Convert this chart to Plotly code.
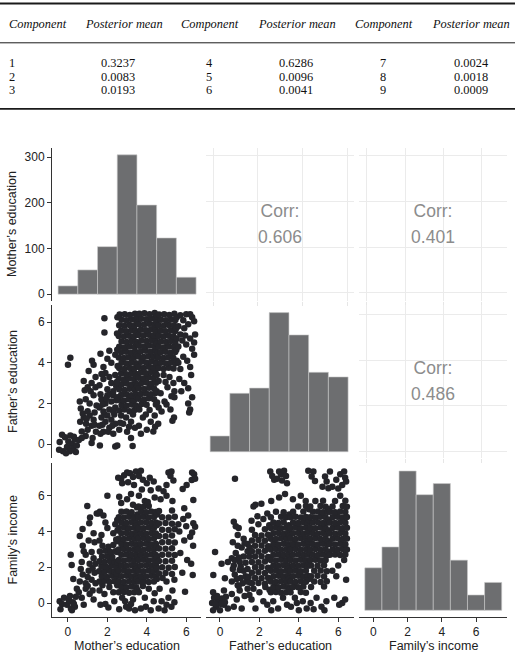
import plotly.graph_objects as go

W, H = 515, 652

# ---------------- table data ----------------
TABLE_HEADERS = ["Component", "Posterior mean", "Component", "Posterior mean", "Component", "Posterior mean"]
COMPONENTS = [1, 2, 3, 4, 5, 6, 7, 8, 9]
POSTERIOR_MEANS = ["0.3237", "0.0083", "0.0193", "0.6286", "0.0096", "0.0041", "0.0024", "0.0018", "0.0009"]

# ---------------- pairs-plot data ----------------
VAR_NAMES = ["Mother’s education", "Father’s education", "Family’s income"]
MOTHER_BINS = [0, 1, 2, 3, 4, 5, 6]
MOTHER_COUNTS = [18, 53, 104, 305, 195, 123, 37]
FATHER_BINS = [0, 1, 2, 3, 4, 5, 6]
FATHER_COUNTS = [24, 89, 97, 212, 178, 121, 114]
INCOME_BINS = [0, 1, 2, 3, 4, 5, 6, 7]
INCOME_COUNTS = [61, 91, 200, 166, 182, 72, 22, 40]
CORR_VALUES = ["0.606", "0.401", "0.486"]   # (mother,father), (mother,income), (father,income)
COUNT_TICKS = [0, 100, 200, 300]
VAR_TICKS = [0, 2, 4, 6]

# mother (x) vs father (y)
MF_PTS = [
 (-0.42,0.10),(-0.30,0.45),(-0.15,0.33),(-0.05,-0.15),(0.02,0.12),(0.12,0.42),(0.20,0.00),(0.26,-0.22),
 (0.35,0.22),(0.40,-0.40),(-0.25,-0.36),(-0.45,-0.28),(0.10,-0.36),(0.30,0.36),(0.45,-0.08),(-0.10,-0.45),
 (0.00,3.90),(0.12,4.25),
 (0.55,0.20),(0.70,0.62),(0.80,1.30),(0.92,1.00),(1.00,0.70),(1.10,1.40),(1.20,0.90),(1.30,1.20),
 (1.42,0.60),(0.62,1.10),(0.75,1.50),(1.00,1.62),(1.35,1.55),(0.90,0.40),(1.25,0.30),(1.10,2.00),
 (0.90,2.20),(1.30,2.40),(1.00,2.80),(1.20,3.00),(0.80,3.10),(1.40,3.30),(1.05,3.60),(1.30,3.90),
 (1.22,4.10),(0.60,2.10),(1.45,1.90),(1.15,2.60),(0.85,2.65),(1.40,2.80),(0.70,0.30),(1.20,0.05),
 (0.95,1.25),(1.35,0.95),(0.65,1.75),
 (1.62,-0.08),(2.40,-0.12),(1.60,0.90),(1.70,1.30),(1.80,0.60),(1.90,1.10),(2.00,1.40),(2.10,0.80),
 (2.20,1.20),(2.30,0.50),(2.40,1.00),(1.65,0.50),(1.85,1.45),(2.05,0.60),(2.35,1.45),(1.75,0.95),
 (2.25,0.90),(1.60,1.80),(1.70,2.20),(1.80,1.60),(1.90,2.00),(2.00,2.40),(2.10,1.70),(2.20,2.10),
 (2.30,2.40),(2.40,1.80),(1.65,2.45),(1.95,2.25),(2.15,2.45),(2.45,2.15),(1.75,1.95),(2.30,1.60),
 (1.60,2.90),(1.80,3.20),(2.00,2.70),(2.20,3.00),(2.40,3.40),(1.90,3.50),(2.30,2.60),(1.70,3.45),
 (2.10,3.30),(2.45,2.85),(1.80,3.80),(2.00,4.20),(2.20,4.00),(2.40,4.40),(1.65,4.45),(2.10,4.60),
 (1.85,5.50),(1.85,6.20),
 (2.50,-0.08),(3.28,-0.10),(3.20,0.30),(2.60,0.70),(2.80,1.00),(3.00,0.60),(3.20,1.10),(3.40,0.80),
 (2.70,1.40),(2.95,1.30),(3.30,1.45),(2.65,1.05),(3.10,0.85),
 (2.60,1.65),(2.86,1.70),(3.12,1.62),(3.38,1.68),
 (2.72,1.92),(2.98,1.88),(3.24,1.95),(3.45,1.90),
 (2.58,2.18),(2.84,2.14),(3.09,2.20),(3.35,2.15),
 (2.70,2.42),(2.96,2.45),(3.21,2.40),(3.44,2.46),
 (2.60,2.70),(2.86,2.66),(3.12,2.72),(3.37,2.68),
 (2.73,2.95),(2.98,2.98),(3.24,2.93),(3.46,2.97),
 (2.58,3.22),(2.84,3.18),(3.10,3.24),(3.35,3.20),
 (2.70,3.47),(2.96,3.44),(3.22,3.50),(3.44,3.46),
 (2.60,3.74),(2.85,3.70),(3.11,3.76),(3.36,3.72),
 (2.72,4.00),(2.97,3.97),(3.23,4.02),(3.45,3.98),
 (2.58,4.26),(2.84,4.24),(3.08,4.28),(3.34,4.25),
 (2.70,4.52),(2.95,4.55),(3.21,4.50),(3.44,4.53),
 (2.60,4.79),(2.86,4.76),(3.12,4.81),(3.36,4.78),
 (2.72,5.05),(2.98,5.03),(3.23,5.07),(3.45,5.04),
 (2.58,5.32),(2.84,5.30),(3.10,5.34),(3.35,5.31),
 (2.70,5.58),(2.96,5.56),(3.22,5.60),(3.44,5.57),
 (2.60,5.85),(2.86,5.83),(3.12,5.87),(3.38,5.84),
 (2.72,6.12),(2.97,6.10),(3.24,6.14),(3.45,6.11),
 (2.62,6.38),(2.88,6.40),(3.14,6.36),(3.40,6.42),
 (2.50,2.30),(2.48,3.05),(2.52,3.85),(2.50,4.65),(2.49,5.45),(2.51,6.25),
 (3.52,1.80),(3.50,2.30),(3.51,2.85),(3.49,3.35),(3.52,3.88),(3.50,4.40),(3.51,4.92),(3.49,5.45),
 (3.52,5.98),(3.50,6.30),
 (3.60,0.90),(3.80,1.30),(4.00,0.70),(4.20,1.10),(4.40,1.40),(3.70,0.50),(4.33,0.61),(3.95,1.45),(4.42,0.85),
 (3.62,1.70),(4.14,1.67),
 (3.74,1.97),(3.99,1.93),(4.46,1.95),
 (3.58,2.23),(3.86,2.19),(4.11,2.25),(4.37,2.20),
 (3.70,2.47),(3.96,2.50),(4.21,2.45),(4.44,2.51),
 (3.60,2.75),(3.86,2.71),(4.12,2.77),(4.37,2.73),
 (3.73,3.00),(3.98,3.03),(4.24,2.98),(4.46,3.02),
 (3.58,3.27),(3.84,3.23),(4.10,3.29),(4.35,3.25),
 (3.70,3.52),(3.96,3.49),(4.22,3.55),(4.44,3.51),
 (3.60,3.79),(3.85,3.75),(4.11,3.81),(4.36,3.77),
 (3.72,4.05),(3.97,4.02),(4.23,4.07),(4.45,4.03),
 (3.58,4.31),(3.84,4.29),(4.08,4.33),(4.34,4.30),
 (3.70,4.57),(3.95,4.60),(4.21,4.55),(4.44,4.58),
 (3.60,4.84),(3.86,4.81),(4.12,4.86),(4.36,4.83),
 (3.72,5.10),(3.98,5.08),(4.23,5.12),(4.45,5.09),
 (3.58,5.37),(3.84,5.35),(4.10,5.39),(4.35,5.36),
 (3.70,5.63),(3.96,5.61),(4.22,5.65),(4.44,5.62),
 (3.60,5.90),(3.86,5.88),(4.12,5.92),(4.38,5.89),
 (3.72,6.17),(3.97,6.15),(4.24,6.19),(4.45,6.16),
 (3.62,6.42),(3.88,6.44),(4.14,6.40),(4.40,6.45),
 (4.52,2.05),(4.50,2.60),(4.51,3.40),(4.49,3.95),(4.52,4.45),(4.50,4.95),(4.51,5.48),(4.49,6.00),
 (4.52,6.30),
 (4.58,1.00),(5.30,1.15),(5.38,1.30),(4.60,1.80),(4.90,2.10),(5.20,1.70),(5.40,2.30),(4.70,2.50),
 (5.05,2.80),(5.35,3.00),(4.60,3.10),(4.85,3.40),(5.15,3.30),(5.40,2.60),(4.75,1.60),(5.00,1.95),
 (5.25,2.35),(4.95,3.05),
 (4.60,3.74),(4.85,3.70),(5.11,3.76),(5.36,3.72),
 (4.72,4.00),(4.97,3.97),(5.23,4.02),(5.45,3.98),
 (4.58,4.26),(4.84,4.24),(5.08,4.28),(5.34,4.25),
 (4.70,4.52),(4.95,4.55),(5.21,4.50),(5.44,4.53),
 (4.60,4.79),(4.86,4.76),(5.12,4.81),(5.36,4.78),
 (4.72,5.05),(4.98,5.03),(5.23,5.07),(5.45,5.04),
 (4.58,5.32),(4.84,5.30),(5.10,5.34),(5.35,5.31),
 (4.70,5.58),(4.96,5.56),(5.22,5.60),(5.44,5.57),
 (4.60,5.85),(4.86,5.83),(5.12,5.87),(5.38,5.84),
 (4.72,6.12),(4.97,6.10),(5.24,6.14),(5.45,6.11),
 (4.62,6.38),(4.88,6.40),(5.14,6.36),(5.40,6.42),
 (5.52,4.10),(5.50,4.65),(5.51,5.20),(5.49,5.70),(5.52,6.25),
 (6.10,2.00),(6.20,1.70),(6.30,2.30),(6.15,1.55),(5.65,3.20),(5.90,3.00),(6.25,3.40),(5.75,2.60),
 (6.10,2.75),(5.60,4.00),(5.85,4.30),(6.20,3.80),(6.40,4.40),(5.70,3.70),(6.05,4.10),(5.60,4.80),
 (5.80,5.10),(6.00,4.90),(6.20,5.20),(6.40,5.00),(5.70,5.40),(6.30,4.70),(6.45,5.40),(5.95,5.35),
 (5.60,5.80),(5.85,6.10),(6.10,5.90),(6.30,6.25),(5.70,6.35),(6.00,6.40),(6.40,6.05),(5.90,5.70),
 (6.20,6.40),
]

# mother (x) vs income (y)
MI_PTS = [
 (-0.42,0.10),(-0.30,-0.05),(-0.20,0.30),(-0.05,-0.10),(0.05,0.15),(0.15,-0.30),(0.25,0.05),(0.35,-0.20),
 (0.40,0.35),(-0.38,-0.35),(0.10,0.40),(0.20,-0.40),(0.30,-0.05),(0.27,1.34),(0.19,2.13),(0.14,2.70),
 (0.55,0.60),(0.45,0.80),
 (0.70,0.30),(0.90,0.80),(1.10,0.50),(1.30,0.20),(0.80,-0.10),(0.60,1.20),(0.75,1.60),(0.90,1.10),
 (1.05,1.80),(1.20,1.30),(1.35,1.70),(0.65,1.90),(1.00,1.45),(1.25,1.95),(1.40,1.10),(0.70,2.30),
 (0.90,2.70),(1.10,2.20),(1.30,2.50),(0.80,2.90),(1.20,2.85),(1.40,2.20),(0.75,3.20),(1.05,3.50),
 (1.30,3.90),(0.74,4.14),(1.08,4.46),(1.12,4.78),(0.98,5.43),(1.46,5.00),(1.35,3.40),(0.60,3.75),
 (1.00,0.95),(1.25,0.70),
 (1.65,-0.10),(1.90,-0.05),(2.05,-0.25),(2.35,0.10),(1.60,0.70),(1.85,0.50),(2.10,0.90),(2.30,0.60),
 (1.75,1.00),
 (1.60,1.20),(1.85,1.25),(2.10,1.18),(2.35,1.22),
 (1.72,1.50),(1.98,1.46),(2.24,1.52),(2.45,1.48),
 (1.58,1.78),(1.84,1.75),(2.10,1.80),(2.36,1.76),
 (1.70,2.05),(1.96,2.02),(2.22,2.08),(2.44,2.04),
 (1.60,2.33),(1.86,2.30),(2.12,2.35),(2.37,2.31),
 (1.73,2.60),(1.99,2.62),(2.25,2.58),
 (1.62,2.88),(1.90,2.92),(2.15,2.86),(2.40,2.90),
 (1.75,3.20),(2.05,3.15),(2.30,3.25),
 (1.70,3.80),(2.00,4.20),(2.30,3.90),(1.90,4.50),(2.40,4.40),(1.55,5.00),(1.62,5.10),(1.80,4.90),
 (2.00,6.00),(2.45,3.55),(1.60,3.50),
 (2.50,1.00),(2.49,1.65),(2.51,2.25),(2.50,2.85),(2.48,3.45),(2.51,4.05),(2.50,4.65),
 (2.60,-0.35),(2.90,0.10),(3.10,-0.30),(3.30,0.20),(2.75,0.30),(3.40,-0.40),(2.95,-0.20),(3.20,-0.05),
 (2.58,0.60),(2.84,0.62),(3.10,0.58),(3.36,0.61),
 (2.71,0.90),(2.97,0.88),(3.23,0.92),(3.46,0.89),
 (2.58,1.20),(2.84,1.18),(3.10,1.22),(3.36,1.19),
 (2.71,1.50),(2.97,1.52),(3.23,1.48),(3.46,1.51),
 (2.58,1.80),(2.84,1.82),(3.10,1.78),(3.36,1.81),
 (2.71,2.10),(2.97,2.08),(3.23,2.12),(3.46,2.09),
 (2.58,2.40),(2.84,2.38),(3.10,2.42),(3.36,2.39),
 (2.71,2.70),(2.97,2.72),(3.23,2.68),(3.46,2.71),
 (2.58,3.00),(2.84,3.02),(3.10,2.98),(3.36,3.01),
 (2.71,3.30),(2.97,3.28),(3.23,3.32),(3.46,3.29),
 (2.58,3.60),(2.84,3.58),(3.10,3.62),(3.36,3.59),
 (2.71,3.90),(2.97,3.92),(3.23,3.88),(3.46,3.91),
 (2.58,4.20),(2.84,4.22),(3.10,4.18),(3.36,4.21),
 (2.71,4.50),(2.97,4.48),(3.23,4.52),(3.46,4.49),
 (2.58,4.80),(2.84,4.78),(3.10,4.82),(3.36,4.79),
 (2.71,5.10),(2.97,5.12),(3.23,5.08),
 (2.70,5.60),(3.00,5.80),(3.30,5.50),(3.20,6.10),(2.60,5.95),
 (2.55,7.00),(2.70,6.95),(2.85,7.15),(3.00,7.30),(3.15,7.25),(3.30,7.05),(3.45,7.35),(2.75,6.70),
 (3.05,6.75),(3.35,6.60),
 (3.51,0.75),(3.50,1.35),(3.49,1.95),(3.52,2.55),(3.50,3.15),(3.51,3.75),(3.49,4.35),(3.52,4.95),
 (3.50,5.35),
 (3.60,0.60),(3.90,0.30),(4.10,0.80),(4.35,0.10),(3.70,-0.30),(4.20,-0.40),(3.95,-0.20),(4.40,0.55),
 (3.80,0.95),
 (3.58,1.20),(3.84,1.22),(4.10,1.18),(4.36,1.21),
 (3.71,1.50),(3.97,1.48),(4.23,1.52),(4.46,1.49),
 (3.58,1.80),(3.84,1.78),(4.10,1.82),(4.36,1.79),
 (3.71,2.10),(3.97,2.12),(4.23,2.08),(4.46,2.11),
 (3.58,2.40),(3.84,2.42),(4.10,2.38),(4.36,2.41),
 (3.71,2.70),(3.97,2.68),(4.23,2.72),(4.46,2.69),
 (3.58,3.00),(3.84,2.98),(4.10,3.02),(4.36,2.99),
 (3.71,3.30),(3.97,3.32),(4.23,3.28),(4.46,3.31),
 (3.58,3.60),(3.84,3.62),(4.10,3.58),(4.36,3.61),
 (3.71,3.90),(3.97,3.88),(4.23,3.92),(4.46,3.89),
 (3.58,4.20),(3.84,4.18),(4.10,4.22),(4.36,4.19),
 (3.71,4.50),(3.97,4.52),(4.23,4.48),(4.46,4.51),
 (3.58,4.80),(3.84,4.82),(4.10,4.78),(4.36,4.81),
 (3.71,5.10),(3.97,5.08),(4.23,5.12),(4.46,5.09),
 (3.58,5.40),(3.84,5.38),(4.10,5.42),
 (3.60,6.00),(3.90,5.70),(4.20,6.30),(4.40,5.90),(3.75,6.35),(3.60,7.10),(3.80,6.90),(4.00,6.70),
 (3.70,7.40),(4.15,7.00),(4.35,6.80),(4.05,5.65),
 (4.51,1.35),(4.50,1.95),(4.52,2.55),(4.49,3.15),(4.51,3.75),(4.50,4.35),(4.52,4.95),
 (4.60,-0.30),(4.75,0.10),(4.90,-0.40),(5.10,0.30),(5.25,-0.20),(5.40,0.05),(5.00,-0.10),(4.65,0.80),
 (5.00,1.20),(5.30,0.70),(4.80,1.40),(5.40,1.30),
 (4.62,1.65),(4.95,1.68),(5.28,1.62),
 (4.78,2.00),(5.11,1.98),(5.42,2.02),
 (4.62,2.35),(4.95,2.33),(5.28,2.37),
 (4.78,2.70),(5.11,2.72),(5.42,2.68),
 (4.62,3.05),(4.95,3.03),(5.28,3.07),
 (4.78,3.40),(5.11,3.42),(5.42,3.38),
 (4.62,3.75),(4.95,3.73),(5.28,3.77),
 (4.78,4.10),(5.11,4.08),(5.42,4.12),
 (4.62,4.45),(4.95,4.47),(5.28,4.43),
 (4.78,4.80),(5.11,4.78),(5.42,4.82),
 (4.62,5.15),(5.28,5.17),
 (4.70,5.80),(5.00,6.00),(5.30,5.70),(5.10,7.30),(5.20,7.10),(5.35,6.85),(5.00,6.60),(5.25,7.35),
 (4.60,6.40),(4.85,6.25),
 (5.94,0.63),(6.33,1.57),(5.80,1.70),(6.05,2.40),(6.25,2.20),(5.70,2.80),(6.35,3.20),(5.90,3.50),
 (6.20,3.70),(6.45,4.27),(6.36,4.46),(6.00,4.30),(5.65,4.00),(6.30,3.95),(5.85,4.70),(6.10,4.90),
 (5.60,4.40),(6.36,5.76),(6.02,6.60),(6.28,6.88),(6.40,7.20),(6.30,7.30),(5.82,6.38),(5.90,5.30),
 (6.45,6.95),
]

# father (x) vs income (y)
FI_PTS = [
 (-0.40,0.00),(-0.30,0.30),(-0.20,-0.20),(-0.10,0.10),(0.00,-0.40),(0.10,0.25),(0.20,-0.10),(0.30,0.35),
 (0.40,-0.30),(-0.35,-0.40),(0.05,-0.05),(-0.15,0.40),(0.25,0.05),(-0.25,-0.05),(-0.35,0.60),(0.20,0.70),
 (-0.34,1.57),(0.25,1.38),(0.08,2.20),(-0.25,2.85),(0.40,2.30),
 (0.76,6.95),(0.70,4.55),(0.80,4.30),(0.95,4.20),(0.65,3.40),(0.90,3.80),(1.20,3.60),(1.40,3.30),
 (1.10,3.10),(0.60,2.50),(0.80,2.80),(1.00,2.30),(1.20,2.60),(1.40,2.90),(0.70,2.10),(0.60,1.20),
 (0.75,1.60),(0.90,1.00),(1.05,1.40),(1.20,1.80),(1.35,1.20),(0.65,1.90),(1.00,1.85),(1.30,1.50),
 (0.85,1.35),(1.15,1.10),(1.40,1.90),(0.60,0.50),(0.85,0.20),(1.00,0.70),(1.25,0.40),(1.40,0.80),
 (0.70,-0.20),(1.10,-0.30),(0.95,0.95),(1.30,2.25),(0.90,3.20),
 (0.75,2.40),(1.05,2.05),(1.25,3.35),(0.95,2.55),(1.45,1.45),(1.48,2.60),(1.50,3.10),(1.52,1.15),
 (1.49,0.45),
 (1.70,5.40),(1.80,5.50),(2.10,5.55),(1.60,0.20),(1.80,-0.30),(2.00,0.60),(2.20,0.10),(2.40,-0.10),
 (1.70,0.80),(2.30,0.90),
 (1.62,1.10),(1.95,1.12),(2.28,1.08),
 (1.78,1.40),(2.11,1.38),(2.44,1.42),
 (1.62,1.70),(1.95,1.72),(2.28,1.68),
 (1.78,2.00),(2.11,2.02),(2.44,1.98),
 (1.62,2.30),(1.95,2.28),(2.28,2.32),
 (1.78,2.60),(2.11,2.62),(2.44,2.58),
 (1.62,2.90),(1.95,2.88),(2.28,2.92),
 (1.78,3.20),(2.11,3.22),(2.44,3.18),
 (1.62,3.50),(1.95,3.52),(2.28,3.48),
 (1.78,3.80),(2.11,3.78),(2.44,3.82),
 (1.62,4.10),(2.28,4.12),(1.95,4.40),
 (1.60,4.60),(2.20,4.70),(2.40,5.00),(1.90,4.85),
 (2.51,0.75),(2.50,1.35),(2.49,1.95),(2.52,2.55),(2.50,3.15),(2.51,3.75),(2.50,4.35),
 (2.55,7.35),(2.65,7.10),(2.75,6.90),(3.00,7.35),(3.10,7.20),(3.25,7.40),(3.35,7.10),(3.15,6.85),
 (2.90,6.95),(3.40,6.70),(2.60,5.70),(3.00,5.90),(3.30,6.10),
 (2.70,0.10),(2.95,-0.30),(3.20,0.30),(3.40,-0.10),(2.60,-0.40),
 (2.58,0.60),(2.84,0.62),(3.10,0.58),(3.36,0.61),
 (2.71,0.90),(2.97,0.88),(3.23,0.92),(3.46,0.89),
 (2.58,1.20),(2.84,1.18),(3.10,1.22),(3.36,1.19),
 (2.71,1.50),(2.97,1.52),(3.23,1.48),(3.46,1.51),
 (2.58,1.80),(2.84,1.82),(3.10,1.78),(3.36,1.81),
 (2.71,2.10),(2.97,2.08),(3.23,2.12),(3.46,2.09),
 (2.58,2.40),(2.84,2.38),(3.10,2.42),(3.36,2.39),
 (2.71,2.70),(2.97,2.72),(3.23,2.68),(3.46,2.71),
 (2.58,3.00),(2.84,3.02),(3.10,2.98),(3.36,3.01),
 (2.71,3.30),(2.97,3.28),(3.23,3.32),(3.46,3.29),
 (2.58,3.60),(2.84,3.58),(3.10,3.62),(3.36,3.59),
 (2.71,3.90),(2.97,3.92),(3.23,3.88),(3.46,3.91),
 (2.58,4.20),(2.84,4.22),(3.10,4.18),(3.36,4.21),
 (2.71,4.50),(2.97,4.48),(3.23,4.52),
 (2.58,4.80),(3.10,4.82),(3.36,4.79),
 (2.84,5.10),(3.23,5.08),
 (3.51,0.75),(3.50,1.35),(3.49,1.95),(3.52,2.55),(3.50,3.15),(3.51,3.75),(3.49,4.35),(3.52,4.95),
 (4.48,7.39),(4.74,7.35),(4.65,7.07),(4.82,6.83),
 (3.60,-0.20),(3.80,0.30),(4.00,-0.40),(4.20,0.10),(4.40,-0.30),(3.90,0.00),
 (3.58,0.60),(4.10,0.62),(4.36,0.58),
 (3.71,0.90),(3.97,0.88),(4.23,0.92),
 (3.58,1.20),(3.84,1.18),(4.10,1.22),(4.36,1.19),
 (3.71,1.50),(3.97,1.52),(4.23,1.48),(4.46,1.51),
 (3.58,1.80),(3.84,1.82),(4.10,1.78),(4.36,1.81),
 (3.71,2.10),(3.97,2.08),(4.23,2.12),(4.46,2.09),
 (3.58,2.40),(3.84,2.38),(4.10,2.42),(4.36,2.39),
 (3.71,2.70),(3.97,2.72),(4.23,2.68),(4.46,2.71),
 (3.58,3.00),(3.84,3.02),(4.10,2.98),(4.36,3.01),
 (3.71,3.30),(3.97,3.28),(4.23,3.32),(4.46,3.29),
 (3.58,3.60),(3.84,3.58),(4.10,3.62),(4.36,3.59),
 (3.71,3.90),(3.97,3.92),(4.23,3.88),(4.46,3.91),
 (3.58,4.20),(3.84,4.22),(4.10,4.18),(4.36,4.21),
 (3.71,4.50),(3.97,4.48),(4.23,4.52),(4.46,4.49),
 (3.58,4.80),(3.84,4.82),(4.10,4.78),(4.36,4.81),
 (3.71,5.10),(4.23,5.12),
 (3.97,5.40),(4.36,5.42),
 (3.70,5.80),(4.10,6.00),(4.35,5.70),
 (4.51,1.35),(4.50,2.25),(4.52,2.85),(4.49,3.45),(4.51,4.05),(4.50,4.65),(4.52,5.25),
 (4.60,0.00),(4.90,0.30),(5.15,-0.20),(5.40,0.10),(4.75,-0.35),(5.30,-0.40),
 (4.62,0.90),(5.28,0.92),
 (4.78,1.20),(5.11,1.18),(5.42,1.22),
 (4.62,1.50),(4.95,1.52),(5.28,1.48),
 (4.78,1.80),(5.11,1.82),(5.42,1.78),
 (4.62,2.10),(4.95,2.08),(5.28,2.12),
 (4.58,2.40),(4.84,2.42),(5.10,2.38),(5.36,2.41),
 (4.71,2.70),(4.97,2.68),(5.23,2.72),(5.46,2.69),
 (4.58,3.00),(4.84,3.02),(5.10,2.98),(5.36,3.01),
 (4.71,3.30),(4.97,3.28),(5.23,3.32),(5.46,3.29),
 (4.58,3.60),(4.84,3.62),(5.10,3.58),(5.36,3.61),
 (4.71,3.90),(4.97,3.88),(5.23,3.92),(5.46,3.89),
 (4.58,4.20),(4.84,4.18),(5.10,4.22),(5.36,4.19),
 (4.71,4.50),(4.97,4.52),(5.23,4.48),(5.46,4.51),
 (4.58,4.80),(4.84,4.78),(5.10,4.82),(5.36,4.79),
 (4.71,5.10),(4.97,5.12),(5.23,5.08),(5.46,5.11),
 (4.58,5.40),(5.10,5.42),(5.36,5.39),
 (4.84,5.70),(5.23,5.72),
 (5.20,6.50),(5.33,7.07),(5.41,6.79),(5.50,6.42),(5.58,7.35),
 (5.51,2.85),(5.50,3.45),(5.52,4.05),(5.49,4.65),(5.51,5.25),
 (6.20,0.00),(6.35,0.20),(5.80,0.30),(6.05,-0.10),
 (6.40,1.30),(5.70,1.80),(6.00,2.10),(6.30,2.40),(5.90,1.50),
 (5.58,2.70),(5.84,2.72),(6.10,2.68),(6.36,2.71),
 (5.71,3.00),(5.97,2.98),(6.23,3.02),(6.44,2.99),
 (5.58,3.30),(5.84,3.28),(6.10,3.32),(6.36,3.29),
 (5.71,3.60),(5.97,3.62),(6.23,3.58),(6.44,3.61),
 (5.58,3.90),(5.84,3.88),(6.10,3.92),(6.36,3.89),
 (5.71,4.20),(5.97,4.22),(6.23,4.18),(6.44,4.21),
 (5.58,4.50),(5.84,4.48),(6.10,4.52),(6.36,4.49),
 (5.71,4.80),(5.97,4.82),(6.23,4.78),(6.44,4.81),
 (5.58,5.10),(5.84,5.08),(6.10,5.12),(6.36,5.09),
 (5.71,5.40),(6.23,5.42),(6.44,5.38),
 (5.84,5.70),(6.36,5.72),
 (6.10,6.00),
 (5.70,6.50),(5.90,6.90),(6.10,7.20),(6.30,7.35),(6.40,6.80),(6.20,6.60),(6.00,6.40),(6.35,7.00),
]

# ---------------- layout constants (pixels) ----------------
COL_PX = [(52, 201), (206, 354), (359, 507)]
ROW_PX = [(148, 301), (305, 458), (463, 617)]
X_RANGES = [[-0.81, 6.75], [-0.71, 6.80], [-0.84, 7.81]]
Y_RANGES = [None, [-0.69, 6.85], [-0.78, 7.83]]
HIST_Y_RANGES = [[-15, 320], [-9.5, 223.6], [-9.6, 211.5]]
COR_GRID_X = {1: [0.054, 0.351, 0.655, 0.953], 2: [0.052, 0.311, 0.57, 0.83]}
COR_GRID_Y = {0: [0.054, 0.351, 0.649, 0.954], 1: [0.041, 0.34, 0.64, 0.935]}
COR_TEXT_POS = [0.58, 0.41]   # vertical position (panel fraction) of "Corr:" and of the value

SANS = "Liberation Sans, Arial, Helvetica, sans-serif"
SERIF = "Liberation Serif, Times New Roman, serif"
BAR_COLOR = "#6d6e70"
PT_COLOR = "#25252a"
AXIS_COLOR = "#333333"
TEXT_COLOR = "#222222"
PT_SIZE = 6.5


def fx(px):
    return px / W


def fy(py):
    return 1 - py / H


HISTS = [(MOTHER_BINS, MOTHER_COUNTS), (FATHER_BINS, FATHER_COUNTS), (INCOME_BINS, INCOME_COUNTS)]
SCATTERS = {(1, 0): MF_PTS, (2, 0): MI_PTS, (2, 1): FI_PTS}
CORRS = {(0, 1): CORR_VALUES[0], (0, 2): CORR_VALUES[1], (1, 2): CORR_VALUES[2]}

fig = go.Figure()
layout = dict(
    width=W, height=H, autosize=False,
    margin=dict(l=0, r=0, t=0, b=0),
    paper_bgcolor="white", plot_bgcolor="white",
    showlegend=False,
    font=dict(family=SANS, color=TEXT_COLOR),
)
annotations = []
shapes = []

for r in range(3):
    for c in range(3):
        k = r * 3 + c + 1
        sfx = "" if k == 1 else str(k)
        xa = dict(domain=[fx(COL_PX[c][0]), fx(COL_PX[c][1])], anchor="y" + sfx,
                  showgrid=False, zeroline=False, showticklabels=False, ticks="",
                  showline=False, fixedrange=True)
        ya = dict(domain=[fy(ROW_PX[r][1]), fy(ROW_PX[r][0])], anchor="x" + sfx,
                  showgrid=False, zeroline=False, showticklabels=False, ticks="",
                  showline=False, fixedrange=True)
        if r == c:
            bins, counts = HISTS[r]
            fig.add_trace(go.Bar(x=bins, y=counts, width=1, xaxis="x" + sfx, yaxis="y" + sfx,
                                 marker=dict(color=BAR_COLOR, line=dict(color="#c9c9c9", width=0.6)),
                                 hoverinfo="skip"))
            xa["range"] = X_RANGES[c]
            ya["range"] = HIST_Y_RANGES[r]
        elif r > c:
            pts = SCATTERS[(r, c)]
            fig.add_trace(go.Scatter(x=[p[0] for p in pts], y=[p[1] for p in pts], mode="markers",
                                     xaxis="x" + sfx, yaxis="y" + sfx,
                                     marker=dict(color=PT_COLOR, size=PT_SIZE, line=dict(width=0)),
                                     hoverinfo="skip"))
            xa["range"] = X_RANGES[c]
            ya["range"] = Y_RANGES[r]
        else:
            xa.update(range=[0, 1], showgrid=True, gridcolor="#ebebeb", gridwidth=1,
                      tickvals=COR_GRID_X[c], ticks="outside", ticklen=4, tickcolor="#e6e6e6")
            ya.update(range=[0, 1], showgrid=True, gridcolor="#ebebeb", gridwidth=1,
                      tickvals=COR_GRID_Y[r])
            fig.add_trace(go.Scatter(x=[0.5, 0.5], y=COR_TEXT_POS, mode="text",
                                     text=["Corr:", CORRS[(r, c)]], textposition="middle center",
                                     textfont=dict(size=17.5, color="#8c8c8c", family=SANS),
                                     xaxis="x" + sfx, yaxis="y" + sfx, hoverinfo="skip"))
        # left axis
        if c == 0:
            ya.update(showline=True, linecolor=AXIS_COLOR, linewidth=1, ticks="outside", ticklen=4,
                      tickcolor=AXIS_COLOR, tickwidth=1, showticklabels=True,
                      tickvals=COUNT_TICKS if r == 0 else VAR_TICKS,
                      tickfont=dict(size=12, color=TEXT_COLOR, family=SANS))
        # bottom axis
        if r == 2:
            xa.update(showline=True, linecolor=AXIS_COLOR, linewidth=1, ticks="outside", ticklen=4,
                      tickcolor=AXIS_COLOR, tickwidth=1, showticklabels=True, tickvals=VAR_TICKS,
                      tickfont=dict(size=12, color=TEXT_COLOR, family=SANS))
        layout["xaxis" + sfx] = xa
        layout["yaxis" + sfx] = ya

# axis titles
for i, name in enumerate(VAR_NAMES):
    cy = (ROW_PX[i][0] + ROW_PX[i][1]) / 2
    annotations.append(dict(x=fx(12.5), y=fy(cy), xref="paper", yref="paper", text=name,
                            textangle=-90, showarrow=False, xanchor="center", yanchor="middle",
                            font=dict(size=12.5, color=TEXT_COLOR, family=SANS)))
    cx = (COL_PX[i][0] + COL_PX[i][1]) / 2
    annotations.append(dict(x=fx(cx), y=fy(646), xref="paper", yref="paper", text=name,
                            showarrow=False, xanchor="center", yanchor="middle",
                            font=dict(size=12.5, color=TEXT_COLOR, family=SANS)))

# table
HEADER_X = [7, 123.5, 210, 297, 384, 471]
VALUE_X = [7, 118, 209, 296, 383, 471]
ROW_Y = [63, 77, 90]
for j, h in enumerate(TABLE_HEADERS):
    annotations.append(dict(x=fx(HEADER_X[j]), y=fy(24), xref="paper", yref="paper",
                            text="<i>" + h + "</i>", showarrow=False,
                            xanchor="left" if j == 0 else "center", yanchor="middle",
                            font=dict(size=12.4, color="#111111", family=SERIF)))
for g in range(3):
    for i in range(3):
        idx = g * 3 + i
        annotations.append(dict(x=fx(VALUE_X[2 * g]), y=fy(ROW_Y[i]), xref="paper", yref="paper",
                                text=str(COMPONENTS[idx]), showarrow=False,
                                xanchor="left" if g == 0 else "center", yanchor="middle",
                                font=dict(size=12.4, color="#111111", family=SERIF)))
        annotations.append(dict(x=fx(VALUE_X[2 * g + 1]), y=fy(ROW_Y[i]), xref="paper", yref="paper",
                                text=POSTERIOR_MEANS[idx], showarrow=False,
                                xanchor="center", yanchor="middle",
                                font=dict(size=12.4, color="#111111", family=SERIF)))

for py, lw in [(3.5, 1.8), (42.8, 1.0), (108.8, 1.8)]:
    shapes.append(dict(type="line", xref="paper", yref="paper", x0=0, x1=1, y0=fy(py), y1=fy(py),
                       line=dict(color="#1a1a1a", width=lw)))

layout["annotations"] = annotations
layout["shapes"] = shapes
fig.update_layout(**layout)
fig.write_html("out.html")
